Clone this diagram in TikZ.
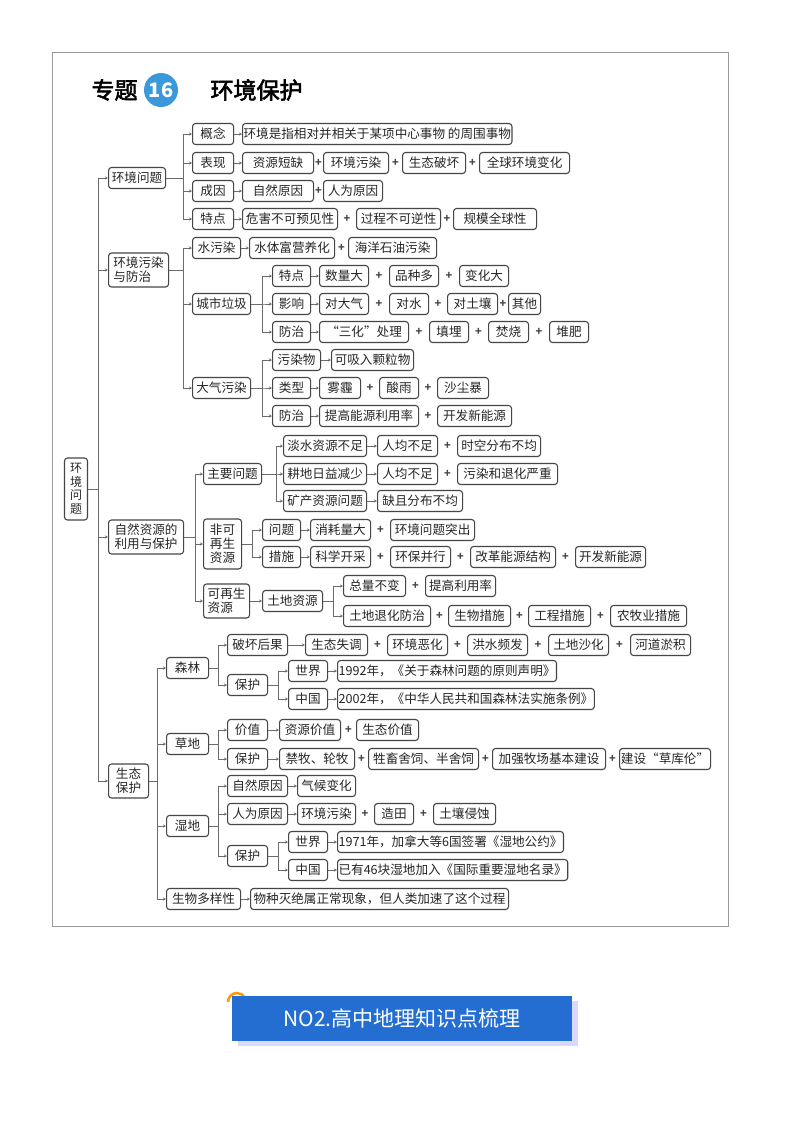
\documentclass[tikz,border=0pt]{standalone}
\usepackage{fontspec}
\setmainfont{Noto Sans CJK SC}
\newfontfamily\cjkb[FakeBold=2.5]{Noto Sans CJK SC}
\usetikzlibrary{calc,arrows.meta}
\definecolor{ln}{RGB}{70,70,70}
\definecolor{bn}{RGB}{36,110,210}
\tikzset{
 bx/.style={draw=ln,line width=1.1pt,rounded corners=3pt,minimum height=21,inner xsep=1pt,inner ysep=1pt,font=\fontsize{12.6}{14}\selectfont,text=black!85},
 conn/.style={draw=ln!80,line width=0.6pt,-{Stealth[length=3pt,width=3pt]}},
 pls/.style={font=\fontsize{11}{11}\selectfont\bfseries,text=ln}
}
\newcommand\bx[5]{\node[bx,minimum width={#3-#2},anchor=west] (#1) at (#2,#4) {#5};}
\newcommand\pl[2]{\node[pls] at ($(#1.east)!.5!(#2.west)$) {+};}
\newcommand\ch[2]{\draw[conn] (#1.east) -- (#2.west);}
\newcommand\br[3]{\draw[conn] (#1.east) -- (#2,0 |- #1.east) |- (#3.west);}
\begin{document}
\begin{tikzpicture}[x=1pt,y=-1pt]
\useasboundingbox (0,0) rectangle (800,1133);
\fill[white] (0,0) rectangle (800,1133);
\draw[black!40,line width=1pt] (52,52) rectangle (728,926);
% title
\node[font=\cjkb\fontsize{23}{23}\selectfont,anchor=west] (t1) at (88,90) {专题};
\node[circle,fill=cyan!70!blue!80,minimum size=34,text=white,font=\bfseries\fontsize{20}{20}\selectfont,inner sep=0] (t2) at (161,90) {16};
\node[font=\cjkb\fontsize{23}{23}\selectfont,anchor=west] (t3) at (207,90) {环境保护};
% root
\node[bx,align=center,minimum width=23,minimum height=62,inner xsep=1pt,font=\fontsize{12}{13.5}\selectfont] (root) at (76,489) {环\\境\\问\\题};
% L1
\bx{A}{108}{165}{178}{环境问题}
\node[bx,align=left,minimum width=60,minimum height=34,anchor=west] (B) at (108,270) {环境污染\\与防治};
\node[bx,align=left,minimum width=75,minimum height=34,anchor=west] (C) at (108,537) {自然资源的\\利用与保护};
\node[bx,align=left,minimum width=40,minimum height=34,anchor=west] (D) at (108,781) {生态\\保护};
\foreach \n in {A,B,C,D}{\draw[conn] (root.east) -- (98,0 |- root.east) |- (\n.west);}
% A
\bx{A1}{192}{233}{134}{概念}
\bx{A2}{192}{233}{163}{表现}
\bx{A3}{192}{233}{191}{成因}
\bx{A4}{192}{233}{219}{特点}
\foreach \n in {A1,A2,A3,A4}{\br{A}{183}{\n}}
\bx{A1a}{242}{508}{134}{环境是指相对并相关于某项中心事物 的周围事物}\ch{A1}{A1a}
\bx{A2a}{242}{313}{163}{资源短缺}\ch{A2}{A2a}
\bx{A2b}{323}{388}{163}{环境污染}\pl{A2a}{A2b}
\bx{A2c}{402}{465}{163}{生态破坏}\pl{A2b}{A2c}
\bx{A2d}{479}{569}{163}{全球环境变化}\pl{A2c}{A2d}
\bx{A3a}{242}{313}{191}{自然原因}\ch{A3}{A3a}
\bx{A3b}{323}{382}{191}{人为原因}\pl{A3a}{A3b}
\bx{A4a}{242}{337}{219}{危害不可预见性}\ch{A4}{A4a}
\bx{A4b}{356}{440}{219}{过程不可逆性}\pl{A4a}{A4b}
\bx{A4c}{453}{536}{219}{规模全球性}\pl{A4b}{A4c}
% B
\bx{B1}{192}{240}{248}{水污染}
\bx{B2}{192}{250}{304}{城市垃圾}
\bx{B3}{192}{250}{388}{大气污染}
\foreach \n in {B1,B2,B3}{\br{B}{183}{\n}}
\bx{B1a}{249}{334}{248}{水体富营养化}\ch{B1}{B1a}
\bx{B1b}{348}{436}{248}{海洋石油污染}\pl{B1a}{B1b}
\bx{B21}{272}{310}{276}{特点}
\bx{B22}{272}{310}{304}{影响}
\bx{B23}{272}{310}{332}{防治}
\foreach \n in {B21,B22,B23}{\br{B2}{262}{\n}}
\bx{B21a}{319}{368}{276}{数量大}\ch{B21}{B21a}
\bx{B21b}{389}{438}{276}{品种多}\pl{B21a}{B21b}
\bx{B21c}{459}{508}{276}{变化大}\pl{B21b}{B21c}
\bx{B22a}{319}{368}{304}{对大气}\ch{B22}{B22a}
\bx{B22b}{389}{428}{304}{对水}\pl{B22a}{B22b}
\bx{B22c}{447}{497}{304}{对土壤}\pl{B22b}{B22c}
\bx{B22d}{508}{540}{304}{其他}\pl{B22c}{B22d}
\bx{B23a}{319}{408}{332}{“三化”处理}\ch{B23}{B23a}
\bx{B23b}{429}{468}{332}{填埋}\pl{B23a}{B23b}
\bx{B23c}{488}{528}{332}{焚烧}\pl{B23b}{B23c}
\bx{B23d}{549}{588}{332}{堆肥}\pl{B23c}{B23d}
\bx{B31}{272}{320}{360}{污染物}
\bx{B32}{272}{310}{388}{类型}
\bx{B33}{272}{310}{416}{防治}
\foreach \n in {B31,B32,B33}{\br{B3}{262}{\n}}
\bx{B31a}{331}{413}{360}{可吸入颗粒物}\ch{B31}{B31a}
\bx{B32a}{319}{360}{388}{雾霾}\ch{B32}{B32a}
\bx{B32b}{379}{418}{388}{酸雨}\pl{B32a}{B32b}
\bx{B32c}{437}{488}{388}{沙尘暴}\pl{B32b}{B32c}
\bx{B33a}{319}{418}{416}{提高能源利用率}\ch{B33}{B33a}
\bx{B33b}{437}{511}{416}{开发新能源}\pl{B33a}{B33b}
% C
\bx{C1}{203}{261}{474}{主要问题}
\node[bx,align=left,minimum width=38,minimum height=50,anchor=west] (C2) at (203,544) {非可\\再生\\资源};
\node[bx,align=left,minimum width=46,minimum height=34,anchor=west] (C3) at (203,601) {可再生\\资源};
\foreach \n in {C1,C2,C3}{\br{C}{195}{\n}}
\bx{C11}{283}{366}{446}{淡水资源不足}
\bx{C12}{283}{366}{474}{耕地日益减少}
\bx{C13}{283}{366}{501}{矿产资源问题}
\foreach \n in {C11,C12,C13}{\br{C1}{276}{\n}}
\bx{C11a}{377}{437}{446}{人均不足}\ch{C11}{C11a}
\bx{C11b}{457}{540}{446}{时空分布不均}\pl{C11a}{C11b}
\bx{C12a}{377}{437}{474}{人均不足}\ch{C12}{C12a}
\bx{C12b}{457}{557}{474}{污染和退化严重}\pl{C12a}{C12b}
\bx{C13a}{377}{462}{501}{缺且分布不均}\ch{C13}{C13a}
\bx{C21}{262}{300}{530}{问题}
\bx{C22}{262}{300}{557}{措施}
\foreach \n in {C21,C22}{\br{C2}{252}{\n}}
\bx{C21a}{310}{370}{530}{消耗量大}\ch{C21}{C21a}
\bx{C21b}{390}{474}{530}{环境问题突出}\pl{C21a}{C21b}
\bx{C22a}{310}{370}{557}{科学开采}\ch{C22}{C22a}
\bx{C22b}{390}{450}{557}{环保并行}\pl{C22a}{C22b}
\bx{C22c}{470}{555}{557}{改革能源结构}\pl{C22b}{C22c}
\bx{C22d}{575}{645}{557}{开发新能源}\pl{C22c}{C22d}
\bx{C31}{262}{322}{601}{土地资源}\ch{C3}{C31}
\bx{C311}{343}{405}{586}{总量不变}
\bx{C312}{343}{430}{616}{土地退化防治}
\foreach \n in {C311,C312}{\br{C31}{333}{\n}}
\bx{C311a}{425}{495}{586}{提高利用率}\pl{C311}{C311a}
\bx{C312a}{448}{510}{616}{生物措施}\pl{C312}{C312a}
\bx{C312b}{528}{590}{616}{工程措施}\pl{C312a}{C312b}
\bx{C312c}{610}{686}{616}{农牧业措施}\pl{C312b}{C312c}
% D
\bx{D1}{166}{208}{668}{森林}
\bx{D2}{166}{208}{744}{草地}
\bx{D3}{166}{208}{826}{湿地}
\bx{D4}{166}{240}{899}{生物多样性}
\foreach \n in {D1,D2,D3,D4}{\br{D}{157}{\n}}
\bx{D11}{227}{287}{645}{破坏后果}
\bx{D12}{227}{267}{685}{保护}
\foreach \n in {D11,D12}{\br{D1}{218}{\n}}
\bx{D11a}{305}{367}{645}{生态失调}\ch{D11}{D11a}
\bx{D11b}{387}{447}{645}{环境恶化}\pl{D11a}{D11b}
\bx{D11c}{467}{527}{645}{洪水频发}\pl{D11b}{D11c}
\bx{D11d}{548}{608}{645}{土地沙化}\pl{D11c}{D11d}
\bx{D11e}{630}{690}{645}{河道淤积}\pl{D11d}{D11e}
\bx{D121}{288}{327}{671}{世界}
\bx{D122}{288}{327}{699}{中国}
\foreach \n in {D121,D122}{\br{D12}{278}{\n}}
\bx{D121a}{337}{553}{671}{1992年，《关于森林问题的原则声明》}\ch{D121}{D121a}
\bx{D122a}{337}{591}{699}{2002年，《中华人民共和国森林法实施条例》}\ch{D122}{D122a}
\bx{D21}{227}{267}{730}{价值}
\bx{D22}{227}{267}{759}{保护}
\foreach \n in {D21,D22}{\br{D2}{218}{\n}}
\bx{D21a}{279}{340}{730}{资源价值}\ch{D21}{D21a}
\bx{D21b}{356}{418}{730}{生态价值}\pl{D21a}{D21b}
\bx{D22a}{279}{354}{759}{禁牧、轮牧}\ch{D22}{D22a}
\bx{D22b}{368}{478}{759}{牲畜舍饲、半舍饲}\pl{D22a}{D22b}
\bx{D22c}{492}{605}{759}{加强牧场基本建设}\pl{D22b}{D22c}
\bx{D22d}{619}{710}{759}{建设“草库伦”}\pl{D22c}{D22d}
\bx{D31}{227}{287}{786}{自然原因}
\bx{D32}{227}{287}{814}{人为原因}
\bx{D33}{227}{267}{856}{保护}
\foreach \n in {D31,D32,D33}{\br{D3}{218}{\n}}
\bx{D31a}{297}{355}{786}{气候变化}\ch{D31}{D31a}
\bx{D32a}{297}{355}{814}{环境污染}\ch{D32}{D32a}
\bx{D32b}{374}{413}{814}{造田}\pl{D32a}{D32b}
\bx{D32c}{433}{495}{814}{土壤侵蚀}\pl{D32b}{D32c}
\bx{D331}{288}{327}{842}{世界}
\bx{D332}{288}{327}{870}{中国}
\foreach \n in {D331,D332}{\br{D33}{278}{\n}}
\bx{D331a}{337}{553}{842}{1971年，加拿大等6国签署《湿地公约》}\ch{D331}{D331a}
\bx{D332a}{337}{560}{870}{已有46块湿地加入《国际重要湿地名录》}\ch{D332}{D332a}
\bx{D4a}{250}{508}{899}{物种灭绝属正常现象，但人类加速了这个过程}\ch{D4}{D4a}
% banner
\fill[blue!15] (238,1001) rectangle (578,1046);
\draw[orange!80!yellow,line width=2.5pt] (237,1002) ++(-9,0) arc (180:370:9);
\node[fill=bn,minimum width=340,minimum height=45,text=white,font=\fontsize{21}{21}\selectfont] (ban) at (402,1018) {NO2.高中地理知识点梳理};
\end{tikzpicture}
\end{document}
